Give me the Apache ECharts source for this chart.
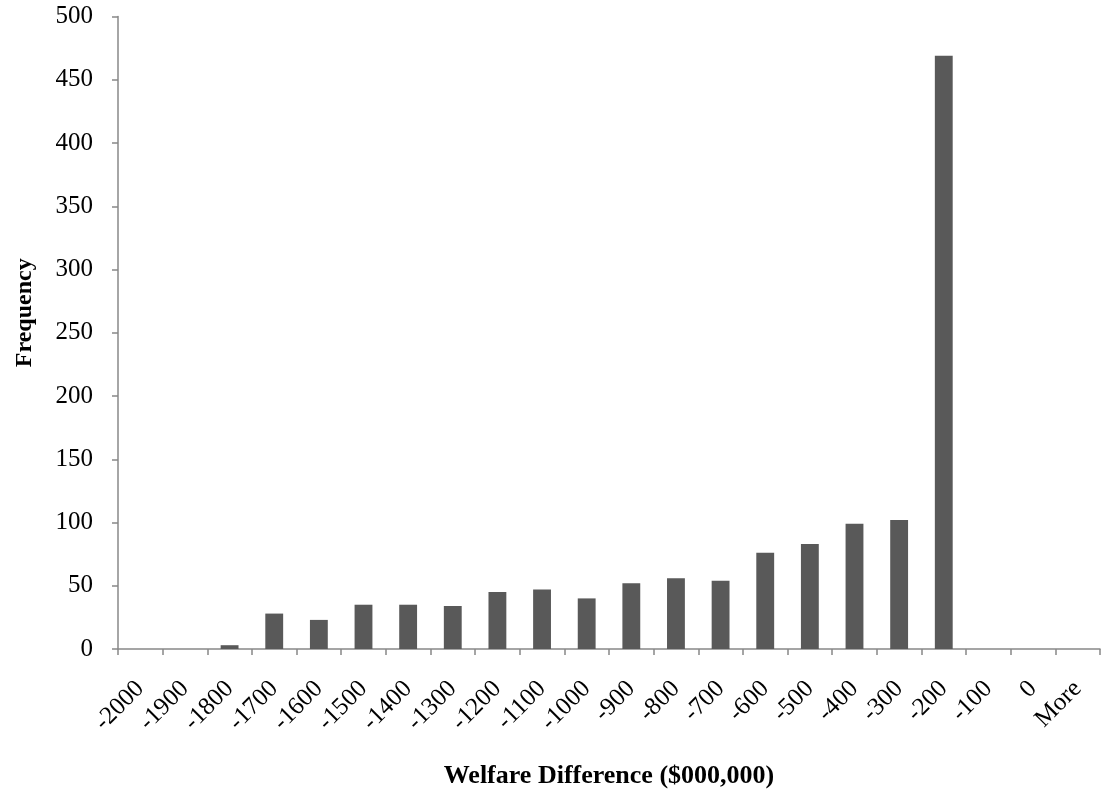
<!DOCTYPE html>
<html>
<head>
<meta charset="utf-8">
<script src="https://cdn.jsdelivr.net/npm/echarts@6/dist/echarts.min.js"></script>
<style>html,body{margin:0;padding:0;background:#fff;}#c{width:1102px;height:793px;}</style>
</head>
<body>
<div id="c"></div>
<script>
const categories = ['-2000','-1900','-1800','-1700','-1600','-1500','-1400','-1300','-1200','-1100','-1000','-900','-800','-700','-600','-500','-400','-300','-200','-100','0','More'];
const frequency = [0,0,3,28,23,35,35,34,45,47,40,52,56,54,76,83,99,102,469,0,0,0];
const yTicks = {min:0, max:500, interval:50};

const chart = echarts.init(document.getElementById('c'), null, {renderer:'canvas'});
const font = '"Liberation Serif","Times New Roman",serif';
chart.setOption({
  animation:false,
  backgroundColor:'#fff',
  grid:{left:118, right:2, top:16.5, bottom:144, containLabel:false, outerBoundsMode:'none'},
  xAxis:{
    type:'category', data:categories, boundaryGap:true,
    name:'Welfare Difference ($000,000)', nameLocation:'middle', nameGap:114,
    nameTextStyle:{fontFamily:font, fontSize:26, fontWeight:'bold', color:'#000'},
    axisLine:{lineStyle:{color:'#888', width:1.5}},
    axisTick:{show:true, alignWithLabel:false, length:6, lineStyle:{color:'#888', width:1.5}},
    axisLabel:{rotate:45, margin:36, fontFamily:font, fontSize:25, color:'#000', interval:0},
    splitLine:{show:false}
  },
  yAxis:{
    type:'value', min:yTicks.min, max:yTicks.max, interval:yTicks.interval,
    name:'Frequency', nameLocation:'middle', nameGap:81, nameRotate:90,
    nameTextStyle:{fontFamily:font, fontSize:24, fontWeight:'bold', color:'#000', padding:[0,0,0,40]},
    axisLine:{show:true, lineStyle:{color:'#888', width:1.5}},
    axisTick:{show:true, length:6, lineStyle:{color:'#888', width:1.5}},
    axisLabel:{margin:25, fontFamily:font, fontSize:25, color:'#000'},
    splitLine:{show:false}
  },
  series:[{
    type:'bar', data:frequency, barWidth:'40%',
    itemStyle:{color:'#595959', borderWidth:0}
  }]
});
</script>
</body>
</html>
